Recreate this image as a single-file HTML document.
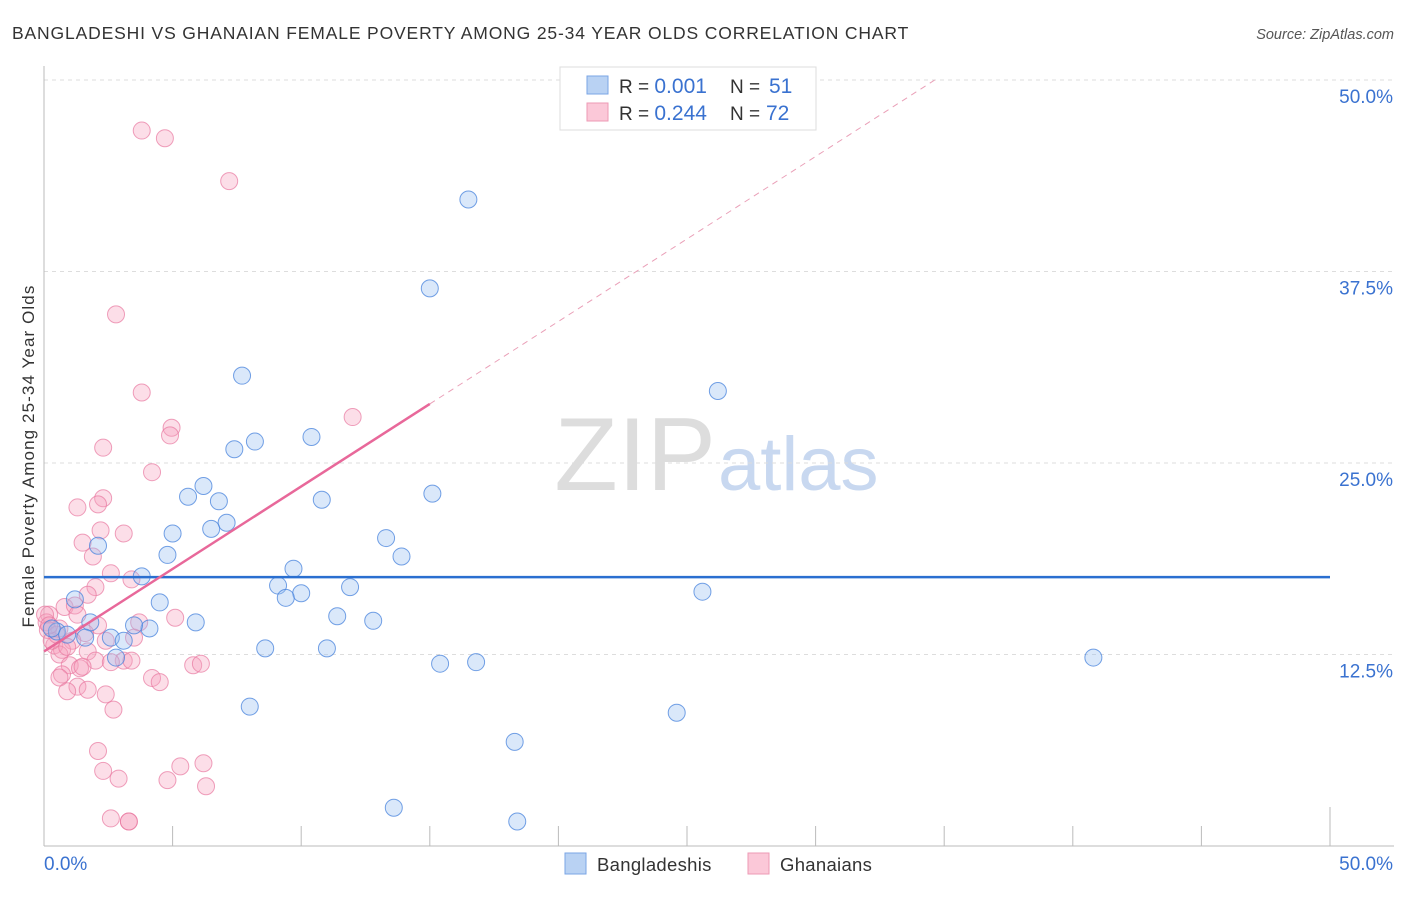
<!DOCTYPE html>
<html><head><meta charset="utf-8"><style>
body{margin:0;background:#fff;font-family:"Liberation Sans",sans-serif;}
svg text{font-family:"Liberation Sans",sans-serif;}
</style></head><body>
<svg width="1406" height="892" viewBox="0 0 1406 892">
<text x="12" y="39" font-size="17.5" fill="#333" letter-spacing="0.85">BANGLADESHI VS GHANAIAN FEMALE POVERTY AMONG 25-34 YEAR OLDS CORRELATION CHART</text>
<text x="1394" y="39" font-size="14.5" fill="#555" font-style="italic" text-anchor="end">Source: ZipAtlas.com</text>
<text x="716" y="490" font-size="104" fill="#ddd" text-anchor="end" font-family="Liberation Serif, serif">ZIP</text>
<text x="718" y="490" font-size="76" fill="#c8d8f0">atlas</text>
<g id="grid"></g>
<g id="axes"></g>
<g id="points"></g>
<g id="trends"></g>
<text transform="translate(34,456) rotate(-90)" font-size="17" fill="#333" text-anchor="middle" letter-spacing="1.1">Female Poverty Among 25-34 Year Olds</text>
<text x="44" y="870" font-size="19" fill="#3a72d0">0.0%</text>
<text x="1393" y="870" font-size="19" fill="#3a72d0" text-anchor="end">50.0%</text>
<g>
<rect x="560" y="67" width="256" height="63" fill="#fff" stroke="#ddd"/>
<rect x="587" y="76" width="21" height="18" fill="#b9d2f3" stroke="#7aa5e6"/>
<rect x="587" y="103" width="21" height="18" fill="#fbc8d8" stroke="#ee9ab5"/>
<text x="619" y="93" font-size="19" fill="#333">R = <tspan font-size="21" fill="#3a72d0">0.001</tspan><tspan x="730">N = </tspan><tspan x="769" font-size="21" fill="#3a72d0">51</tspan></text>
<text x="619" y="120" font-size="19" fill="#333">R = <tspan font-size="21" fill="#3a72d0">0.244</tspan><tspan x="730">N = </tspan><tspan x="766" font-size="21" fill="#3a72d0">72</tspan></text>
</g>
<rect x="565" y="853" width="21" height="21" fill="#b9d2f3" stroke="#7aa5e6"/>
<text x="597" y="871" font-size="18.5" fill="#333" letter-spacing="0.3">Bangladeshis</text>
<rect x="748" y="853" width="21" height="21" fill="#fbc8d8" stroke="#ee9ab5"/>
<text x="780" y="871" font-size="18.5" fill="#333" letter-spacing="0.3">Ghanaians</text>
</svg>
<script>
const yTicks=[12.5,25,37.5,50];
const yTickLabels=["12.5%","25.0%","37.5%","50.0%"];
const xTicks=[0,5,10,15,20,25,30,35,40,45,50];
const blueX=[16.5,15.0,7.7,26.2,8.2,10.4,7.4,6.2,5.6,6.8,15.1,10.8,7.1,6.5,5.0,13.3,2.1,4.8,13.9,9.7,3.8,9.1,11.9,25.6,10.0,9.4,1.2,4.5,11.4,12.8,5.9,1.8,4.1,3.5,0.5,0.3,0.9,2.6,3.1,1.6,11.0,8.6,2.8,15.4,16.8,40.8,8.0,24.6,18.3,13.6,18.4];
const blueY=[42.2,36.4,30.7,29.7,26.4,26.7,25.9,23.5,22.8,22.5,23.0,22.6,21.1,20.7,20.4,20.1,19.6,19.0,18.9,18.1,17.6,17.0,16.9,16.6,16.5,16.2,16.1,15.9,15.0,14.7,14.6,14.6,14.2,14.4,14.0,14.2,13.8,13.6,13.4,13.6,12.9,12.9,12.3,11.9,12.0,12.3,9.1,8.7,6.8,2.5,1.6];
const pinkX=[3.8,4.7,7.2,2.8,3.8,12.0,4.96,4.9,2.3,4.2,2.3,1.3,2.1,3.1,2.2,1.5,1.9,2.6,3.4,2.0,1.7,0.8,1.2,0.2,1.3,5.1,3.7,2.1,0.1,0.6,1.6,1.1,2.4,3.5,0.4,0.7,1.7,0.6,2.0,3.1,3.4,1.0,1.4,0.7,2.6,5.8,6.1,1.5,0.6,4.2,4.5,1.3,1.7,0.9,2.4,2.7,2.1,2.3,2.9,4.8,5.3,6.2,6.3,2.6,3.3,3.3,0.04,0.15,0.3,0.5,0.2,0.9];
const pinkY=[46.7,46.2,43.4,34.7,29.6,28.0,27.3,26.8,26.0,24.4,22.7,22.1,22.3,20.4,20.6,19.8,18.9,17.8,17.4,16.9,16.4,15.6,15.7,15.1,15.1,14.9,14.6,14.4,14.6,14.2,13.9,13.4,13.4,13.6,13.1,12.8,12.7,12.5,12.1,12.1,12.1,11.8,11.6,11.2,12.0,11.8,11.9,11.7,11.0,10.97,10.7,10.4,10.2,10.1,9.9,8.9,6.2,4.9,4.4,4.3,5.2,5.4,3.9,1.8,1.6,1.6,15.1,14.1,13.4,13.8,14.4,13.0];
const blueTrend=[17.55,17.55];
const pinkTrend=[12.7,1.077];
const X0=44,X1=1330,Y0=846,PX=(X1-X0)/50,PY=15.32;
const sx=v=>X0+v*PX, sy=v=>Y0-v*PY;
const NS="http://www.w3.org/2000/svg";
function mk(tag,attrs,parent){const e=document.createElementNS(NS,tag);for(const k in attrs)e.setAttribute(k,attrs[k]);document.getElementById(parent).appendChild(e);return e;}
yTicks.forEach((t,i)=>{
 const g=mk('line',{x1:44,x2:1394,y1:sy(t),y2:sy(t),stroke:'#ddd','stroke-dasharray':'4,4'},'grid');
 
 
 const tx=mk('text',{x:1393,y:sy(t)+23,'font-size':19,fill:'#3a72d0','text-anchor':'end'},'grid');
 tx.textContent=yTickLabels[i];
 
 
});
let ax=mk('line',{x1:44,x2:44,y1:66,y2:846,stroke:'#bbb'},'axes');


ax=mk('line',{x1:44,x2:1394,y1:846,y2:846,stroke:'#bbb'},'axes');


xTicks.forEach(t=>{
 const long=(t===0||t===50);
 const l=mk('line',{x1:sx(t),x2:sx(t),y1:long?807:826,y2:846,stroke:'#bbb'},'axes');
 
 
});
pinkX.forEach((x,i)=>{
 const c=mk('circle',{cx:sx(x),cy:sy(pinkY[i]),r:8.5,fill:'rgba(246,160,190,0.35)',stroke:'rgba(232,120,160,0.7)','stroke-width':1},'points');
 
 
});
blueX.forEach((x,i)=>{
 const c=mk('circle',{cx:sx(x),cy:sy(blueY[i]),r:8.5,fill:'rgba(150,190,240,0.35)',stroke:'rgba(70,130,220,0.75)','stroke-width':1},'points');
 
 
});
let tl=mk('line',{x1:sx(0),x2:sx(50),y1:sy(blueTrend[0]),y2:sy(blueTrend[1]),stroke:'#2a6fd0','stroke-width':2.5},'trends');


const xEnd=(50-pinkTrend[0])/pinkTrend[1];
tl=mk('line',{x1:sx(15),x2:sx(xEnd),y1:sy(pinkTrend[0]+pinkTrend[1]*15),y2:sy(50),stroke:'#eaa0b8','stroke-width':1,'stroke-dasharray':'6,5'},'trends');


tl=mk('line',{x1:sx(0),x2:sx(15),y1:sy(pinkTrend[0]),y2:sy(pinkTrend[0]+pinkTrend[1]*15),stroke:'#e8689a','stroke-width':2.5},'trends');


</script>
</body></html>
